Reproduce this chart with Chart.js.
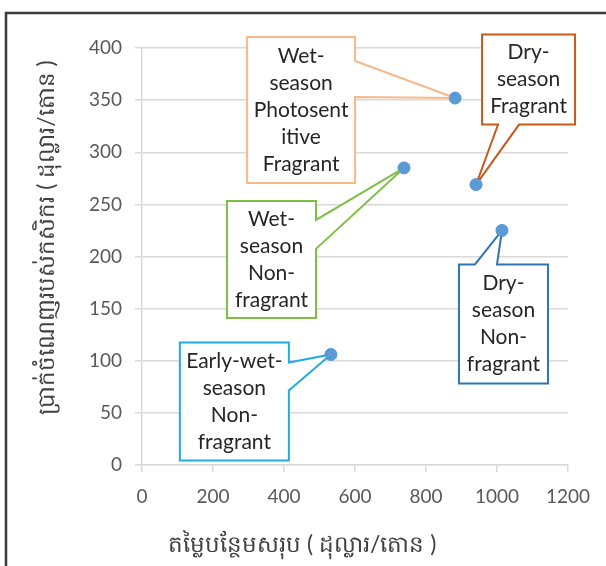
<!DOCTYPE html>
<html>
<head>
<meta charset="utf-8">
<script src="https://cdn.jsdelivr.net/npm/chart.js@4.4.1/dist/chart.umd.min.js"></script>
<style>
    html, body { margin: 0; padding: 0; background: #fff; }
    #wrap { width: 606px; height: 566px; }
</style>
</head>
<body>
<div id="wrap"><canvas id="chart" width="606" height="566"></canvas></div>
<script>
// values
const addedValue = [882, 941, 738, 1014, 532];   // x, dollars per ton
const farmerProfit = [352, 269, 285, 225, 106];  // y, dollars per ton
const varietyLabels = [
    ['Wet-', 'season', 'Photosent', 'itive', 'Fragrant'],
    ['Dry-', 'season', 'Fragrant'],
    ['Wet-', 'season', 'Non-', 'fragrant'],
    ['Dry-', 'season', 'Non-', 'fragrant'],
    ['Early-wet-', 'season', 'Non-', 'fragrant']
];
const xTicks = [0, 200, 400, 600, 800, 1000, 1200];
const yTicks = [0, 50, 100, 150, 200, 250, 300, 350, 400];
const xTitle = 'តម្លៃបន្ថែមសរុប ( ដុល្លារ/តោន )';
const yTitle = 'ប្រាក់ចំណេញរបស់កសិករ ( ដុល្លារ/តោន )';

// callout placement, pixels relative to the point (style only)
const calloutStyles = [
    {color: '#F6B987', dx: -208, dy: -61, w: 108, h: 146, side: 'right', a: 24, b: 60},
    {color: '#C65A1E', dx: 6, dy: -150, w: 93, h: 90, side: 'bottom', a: 16, b: 37},
    {color: '#7DBF45', dx: -177, dy: 33, w: 89, h: 117, side: 'right', a: 19, b: 48},
    {color: '#2E75B6', dx: -43, dy: 34, w: 89, h: 119, side: 'top', a: 16, b: 38},
    {color: '#22AAE2', dx: -151, dy: -12, w: 109, h: 118, side: 'right', a: 20, b: 48}
];

const points = addedValue.map((x, i) => ({x: x, y: farmerProfit[i]}));

const framePlugin = {
    id: 'frame',
    beforeDraw(chart) {
        const ctx = chart.ctx;
        ctx.save();
        ctx.fillStyle = '#fff';
        ctx.fillRect(0, 0, chart.width, chart.height);
        ctx.strokeStyle = '#3a3a3a';
        ctx.lineWidth = 2.5;
        ctx.strokeRect(6, 13, 800, 800);
        ctx.restore();
    },
    // axis titles sit a little off-centre in the original, so they are drawn here
    afterDraw(chart) {
        const ctx = chart.ctx;
        const area = chart.chartArea;
        ctx.save();
        ctx.fillStyle = '#404040';
        ctx.font = '23px Lato';
        ctx.textBaseline = 'middle';
        ctx.textAlign = 'left';
        ctx.fillText(xTitle, area.left + 26, 545);
        ctx.translate(47, (area.top + area.bottom) / 2 - 19);
        ctx.rotate(-Math.PI / 2);
        ctx.textAlign = 'center';
        ctx.fillText(yTitle, 0, 0);
        ctx.restore();
    }
};

const calloutPlugin = {
    id: 'callouts',
    afterDatasetsDraw(chart) {
        const ctx = chart.ctx;
        const meta = chart.getDatasetMeta(0);
        ctx.save();
        meta.data.forEach((el, i) => {
            const s = calloutStyles[i];
            const px = el.x, py = el.y;
            const l = px + s.dx, t = py + s.dy, r = l + s.w, b = t + s.h;
            ctx.beginPath();
            ctx.moveTo(l, t);
            if (s.side === 'top') {
                ctx.lineTo(l + s.a, t); ctx.lineTo(px, py); ctx.lineTo(l + s.b, t);
            }
            ctx.lineTo(r, t);
            if (s.side === 'right') {
                ctx.lineTo(r, t + s.a); ctx.lineTo(px, py); ctx.lineTo(r, t + s.b);
            }
            ctx.lineTo(r, b);
            if (s.side === 'bottom') {
                ctx.lineTo(l + s.b, b); ctx.lineTo(px, py); ctx.lineTo(l + s.a, b);
            }
            ctx.lineTo(l, b);
            ctx.closePath();
            ctx.fillStyle = '#fff';
            ctx.fill();
            ctx.strokeStyle = s.color;
            ctx.lineWidth = 2;
            ctx.stroke();

            const lines = varietyLabels[i];
            const lh = 27;
            ctx.fillStyle = '#262626';
            ctx.font = '21px Lato';
            ctx.textAlign = 'center';
            ctx.textBaseline = 'middle';
            const cy = (t + b) / 2 - (lines.length - 1) * lh / 2;
            lines.forEach((line, k) => ctx.fillText(line, (l + r) / 2, cy + k * lh));
        });
        // points on top of the leader tips
        meta.data.forEach(el => {
            ctx.beginPath();
            ctx.arc(el.x, el.y, 6, 0, Math.PI * 2);
            ctx.fillStyle = '#5B9BD5';
            ctx.fill();
        });
        ctx.restore();
    }
};

new Chart(document.getElementById('chart'), {
    type: 'scatter',
    data: {
        datasets: [{
            data: points,
            backgroundColor: '#5B9BD5',
            borderColor: '#5B9BD5',
            pointRadius: 6,
            pointHoverRadius: 6
        }]
    },
    options: {
        responsive: false,
        animation: false,
        events: [],
        layout: {padding: {left: 20, top: 48, right: 38, bottom: 0}},
        plugins: {legend: {display: false}, tooltip: {enabled: false}},
        scales: {
            x: {
                type: 'linear',
                min: 0, max: 1200,
                afterBuildTicks: scale => { scale.ticks = xTicks.map(v => ({value: v})); },
                afterFit: scale => { scale.height = 101; },
                border: {color: '#D9D9D9', width: 1.5},
                grid: {drawOnChartArea: false, drawTicks: true, tickLength: 7, color: '#D9D9D9', lineWidth: 1.5},
                ticks: {color: '#595959', font: {family: 'Lato', size: 19}, padding: 13, maxRotation: 0, callback: v => String(v)},
                title: {display: false, text: xTitle}
            },
            y: {
                type: 'linear',
                min: 0, max: 400,
                afterBuildTicks: scale => { scale.ticks = yTicks.map(v => ({value: v})); },
                afterFit: scale => { scale.width = 122; },
                border: {color: '#D9D9D9', width: 1.5},
                grid: {color: '#D9D9D9', lineWidth: 1.5, tickLength: 7},
                ticks: {color: '#595959', font: {family: 'Lato', size: 19}, padding: 13, callback: v => String(v)},
                title: {display: false, text: yTitle}
            }
        }
    },
    plugins: [framePlugin, calloutPlugin]
});
</script>
</body>
</html>
